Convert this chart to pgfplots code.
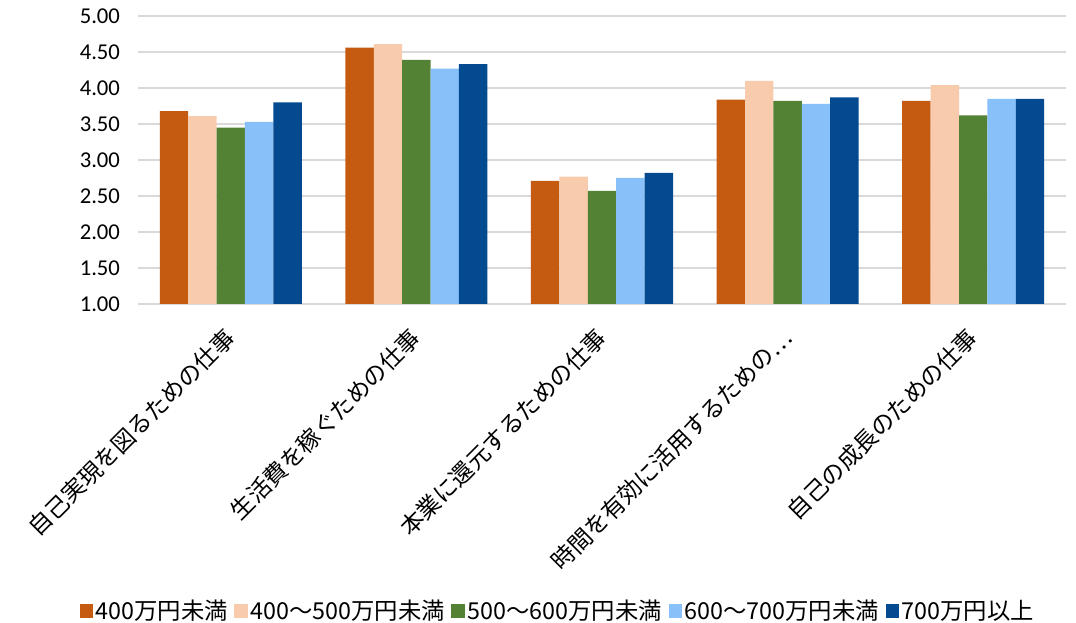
\documentclass[border=0pt]{standalone}
\usepackage{fontspec}
\setmainfont{Carlito}
\newfontfamily\jp{Noto Sans CJK JP}
\usepackage{pgfplots}
\pgfplotsset{compat=1.18}
\definecolor{c1}{HTML}{C55A11}
\definecolor{c2}{HTML}{F8CBAD}
\definecolor{c3}{HTML}{548235}
\definecolor{c4}{HTML}{88C0F9}
\definecolor{c5}{HTML}{034A90}
\begin{document}
\begin{tikzpicture}
\begin{axis}[name=ax, scale only axis, width=696pt, height=216pt,
  ybar=0pt, bar width=21.3pt,
  xmin=-0.5, xmax=4.5, ymin=1, ymax=5,
  ytick={1,1.5,2,2.5,3,3.5,4,4.5,5},
  /pgf/number format/fixed, /pgf/number format/fixed zerofill, /pgf/number format/precision=2, /pgf/number format/assume math mode=true,
  yticklabel style={font=\fontsize{17}{20}\selectfont, xshift=-10pt},
  xtick={0,1,2,3,4},
  xticklabels={自己実現を図るための仕事, 生活費を稼ぐための仕事, 本業に還元するための仕事, 時間を有効に活用するための…, 自己の成長のための仕事},
  xticklabel style={font=\jp\fontsize{17.5}{20}\selectfont, rotate=45, anchor=east, inner sep=0pt},
  xticklabel shift=22pt,
  ymajorgrids, grid style={draw=black!15, line width=1.1pt},
  axis line style={draw=none}, major tick length=0pt,
  legend columns=5,
  legend style={at={(0.4526,-1.066)}, anchor=center, draw=none, font=\jp\fontsize{17.5}{20}\selectfont,
    /tikz/every even column/.append style={column sep=3pt}},
  legend image code/.code={\fill[#1] (0pt,-5pt) rectangle (10pt,5pt);},
]
\addplot[fill=c1, draw=none] coordinates {(0,3.68) (1,4.56) (2,2.71) (3,3.84) (4,3.82)};
\addplot[fill=c2, draw=none] coordinates {(0,3.61) (1,4.61) (2,2.77) (3,4.10) (4,4.04)};
\addplot[fill=c3, draw=none] coordinates {(0,3.45) (1,4.39) (2,2.57) (3,3.82) (4,3.62)};
\addplot[fill=c4, draw=none] coordinates {(0,3.53) (1,4.27) (2,2.75) (3,3.78) (4,3.85)};
\addplot[fill=c5, draw=none] coordinates {(0,3.80) (1,4.33) (2,2.82) (3,3.87) (4,3.85)};
\legend{400万円未満, 400～500万円未満, 500～600万円未満, 600～700万円未満, 700万円以上}
\end{axis}
\pgfresetboundingbox
\path[use as bounding box] ([xshift=-103.5pt, yshift=-239.25pt]ax.south west) rectangle ([xshift=703.5pt, yshift=228pt]ax.south west);
\end{tikzpicture}
\end{document}
